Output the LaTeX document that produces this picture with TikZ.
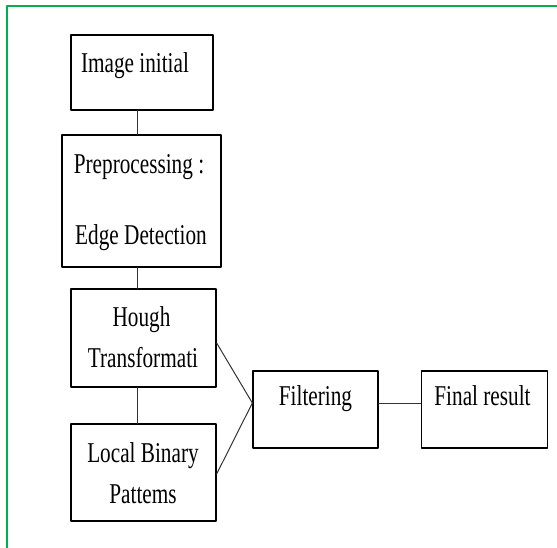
\documentclass[tikz,border=0pt]{standalone}
\usepackage{fontspec}
\setmainfont[FakeStretch=0.74]{Liberation Serif}
\usepackage{tikz}
\usetikzlibrary{calc}
\definecolor{qqbwqq}{rgb}{0.,0.69,0.31}
\definecolor{ttttdd}{rgb}{0.2,0.2,0.2}
\tikzstyle{every node}=[font=\fontsize{28.7}{34}\selectfont]
\tikzstyle{blok}=[draw=black,line width=1.3pt,inner sep=0pt]
\tikzstyle{txt}=[anchor=base,inner sep=0pt]
\tikzstyle{lien}=[line width=1pt,color=ttttdd]

\begin{document}
\begin{tikzpicture}[line cap=round,line join=round,x=1pt,y=-1pt]
            \useasboundingbox (0,0) rectangle (557,548);
            \draw [line width=2.2pt,color=qqbwqq,line cap=rect] (7,550) -- (7,6) -- (560,6);
            % boites
            \node [blok,minimum width=142pt,minimum height=75pt] (init) at (142,72.5) {};
            \node [blok,minimum width=159pt,minimum height=132pt] (prep) at (141.5,201) {};
            \node [blok,minimum width=145pt,minimum height=98pt] (hough) at (143.5,338) {};
            \node [blok,minimum width=145pt,minimum height=97pt] (lbp) at (143.5,472.5) {};
            \node [blok,minimum width=125pt,minimum height=77pt] (filt) at (315.5,409.5) {};
            \node [blok,minimum width=126pt,minimum height=77pt] (final) at (484.5,409.5) {};
            % textes
            \node [txt] (t-init) at (135,73) {Image initial};
            \node [txt] (t-prep1) at (139,174) {Preprocessing :};
            \node [txt] (t-prep2) at (141,244) {Edge Detection};
            \node [txt] (t-hough1) at (141.5,326) {Hough};
            \node [txt] (t-hough2) at (143,367) {Transformati};
            \node [txt] (t-lbp1) at (143,462) {Local Binary};
            \node [txt] (t-lbp2) at (143,503) {Pattems};
            \node [txt] (t-filt) at (315.5,405) {Filtering};
            \node [txt] (t-final) at (482.5,405) {Final result};
            % liens
            \draw [lien] ([xshift=-5pt]init.south) -- ([xshift=-4.5pt]prep.north);
            \draw [lien] ([xshift=-4.5pt]prep.south) -- ([xshift=-6.5pt]hough.north);
            \draw [lien] ([xshift=-6.5pt]hough.south) -- ([xshift=-6.5pt]lbp.north);
            \draw [lien] ([yshift=-5pt]hough.east) -- ([yshift=6.5pt]filt.west);
            \draw [lien] ([yshift=-1.5pt]lbp.east) -- ([yshift=6.5pt]filt.west);
            \draw [lien] ([yshift=6.5pt]filt.east) -- ([yshift=6.5pt]final.west);
        \end{tikzpicture}
\end{document}
